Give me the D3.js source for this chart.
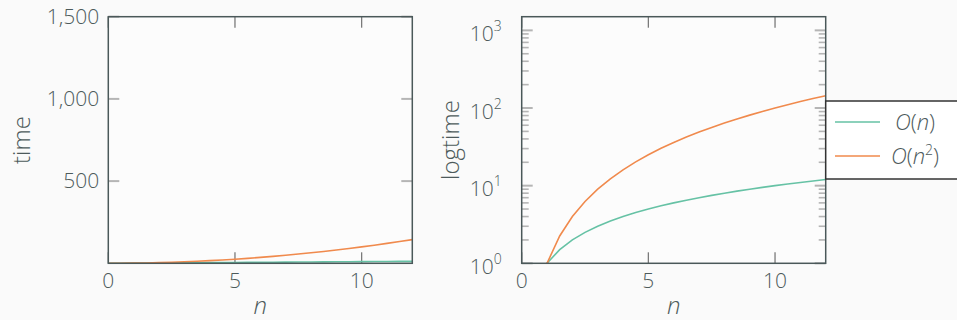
<!DOCTYPE html>
<html>
<head>
<meta charset="utf-8">
<script src="https://cdn.jsdelivr.net/npm/d3@7"></script>
<style>
  body { margin: 0; background: #fafafa; }
  svg { display: block; font-family: "Open Sans", "Noto Sans", sans-serif; }
  .lbl { fill: #4d5a5b; font-size: 21px; font-weight: 300; }
  .title { fill: #4d5a5b; font-size: 24px; font-weight: 300; }
</style>
</head>
<body>
<svg id="chart" width="957" height="320"></svg>
<script>
// sample points of n (pgfplots style, 25 samples on 0..12)
const nValues = [0, 0.5, 1, 1.5, 2, 2.5, 3, 3.5, 4, 4.5, 5, 5.5, 6, 6.5, 7, 7.5, 8, 8.5, 9, 9.5, 10, 10.5, 11, 11.5, 12];
const linearTime = [0, 0.5, 1, 1.5, 2, 2.5, 3, 3.5, 4, 4.5, 5, 5.5, 6, 6.5, 7, 7.5, 8, 8.5, 9, 9.5, 10, 10.5, 11, 11.5, 12];
const quadTime = [0, 0.25, 1, 2.25, 4, 6.25, 9, 12.25, 16, 20.25, 25, 30.25, 36, 42.25, 49, 56.25, 64, 72.25, 81, 90.25, 100, 110.25, 121, 132.25, 144];
const seriesNames = ['O(n)', 'O(n²)'];
const xTicks = [0, 5, 10];
const linTicks = [500, 1000, 1500];
const logMajor = [1, 10, 100, 1000];
const logExp = ['0', '1', '2', '3'];
const logMinor = [2, 3, 4, 5, 6, 7, 8, 9, 20, 30, 40, 50, 60, 70, 80, 90, 200, 300, 400, 500, 600, 700, 800, 900];

const colors = ['#66c2a5', '#f08a4d'];
const frameColor = '#4a5859';

const svg = d3.select('#chart');

const series = [
  nValues.map((n, i) => ({n: n, t: linearTime[i]})),
  nValues.map((n, i) => ({n: n, t: quadTime[i]}))
];

function drawPanel(cfg) {
  const x = d3.scaleLinear().domain([0, 12]).range([cfg.left, cfg.left + 304]);
  const y = cfg.log
    ? d3.scaleLog().domain([1, 1500]).range([263.3, 16.7])
    : d3.scaleLinear().domain([0, 1500]).range([263.3, 16.7]);

  const g = svg.append('g');

  // plot background
  g.append('rect')
      .attr('x', x.range()[0]).attr('y', 16.7)
      .attr('width', 304).attr('height', 246.6)
      .attr('fill', '#fcfcfc');

  g.append('clipPath').attr('id', cfg.id)
    .append('rect')
      .attr('x', x.range()[0]).attr('y', 16.7)
      .attr('width', 304).attr('height', 246.6);

  // y ticks (left and right, inside)
  const yTickList = cfg.log ? logMajor : linTicks;
  const tickG = g.append('g');
  yTickList.forEach(v => {
    [[x.range()[0], 11], [x.range()[1], -11]].forEach(([x0, len]) => {
      tickG.append('line')
        .attr('x1', x0).attr('x2', x0 + len)
        .attr('y1', y(v)).attr('y2', y(v))
        .attr('stroke', '#b5b5b5').attr('stroke-width', 2);
    });
  });
  if (cfg.log) {
    logMinor.forEach(v => {
      [[x.range()[0], 7], [x.range()[1], -7]].forEach(([x0, len]) => {
        tickG.append('line')
          .attr('x1', x0).attr('x2', x0 + len)
          .attr('y1', y(v)).attr('y2', y(v))
          .attr('stroke', '#b5b5b5').attr('stroke-width', 1.6);
      });
    });
  }
  // x ticks (top and bottom, inside)
  xTicks.forEach(v => {
    [[263.3, -11], [16.7, 11]].forEach(([y0, len]) => {
      tickG.append('line')
        .attr('x1', x(v)).attr('x2', x(v))
        .attr('y1', y0).attr('y2', y0 + len)
        .attr('stroke', '#7a7a7a').attr('stroke-width', 1.3);
    });
  });

  // lines
  const line = d3.line()
      .defined(d => !cfg.log || d.t > 0)
      .x(d => x(d.n))
      .y(d => y(d.t));
  series.forEach((s, i) => {
    g.append('path')
      .datum(s)
      .attr('clip-path', `url(#${cfg.id})`)
      .attr('fill', 'none')
      .attr('stroke', colors[i])
      .attr('stroke-width', 1.6)
      .attr('d', line);
  });

  // frame
  g.append('rect')
      .attr('x', x.range()[0]).attr('y', 16.7)
      .attr('width', 304).attr('height', 246.6)
      .attr('fill', 'none')
      .attr('stroke', frameColor).attr('stroke-width', 1.5);

  // x tick labels
  xTicks.forEach(v => {
    g.append('text').attr('class', 'lbl')
      .attr('x', x(v)).attr('y', 288)
      .attr('text-anchor', 'middle')
      .text(v);
  });

  // y tick labels
  if (cfg.log) {
    logMajor.forEach((v, i) => {
      const t = g.append('text').attr('class', 'lbl')
        .attr('x', x.range()[0] - 20).attr('y', y(v) + 10.5)
        .attr('text-anchor', 'end');
      t.append('tspan').text('10');
      t.append('tspan').attr('dy', -10).style('font-size', '14px').text(logExp[i]);
    });
  } else {
    linTicks.forEach(v => {
      g.append('text').attr('class', 'lbl')
        .attr('x', x.range()[0] - 9).attr('y', y(v) + 7)
        .attr('text-anchor', 'end')
        .text(d3.format(',')(v));
    });
  }

  // axis titles
  g.append('text').attr('class', 'title')
    .attr('x', (x.range()[0] + x.range()[1]) / 2).attr('y', 314)
    .attr('text-anchor', 'middle')
    .style('font-style', 'italic')
    .text('n');
  g.append('text').attr('class', 'title')
    .attr('transform', `translate(${cfg.titleX},140) rotate(-90)`)
    .attr('text-anchor', 'middle')
    .text(cfg.title);

  return {x, y};
}

drawPanel({left: 108.3, log: false, id: 'clipA', title: 'time', titleX: 30});
const right = drawPanel({left: 521.7, log: true, id: 'clipB', title: 'logtime', titleX: 459});

// legend box, partly outside the page on the right
const leg = svg.append('g');
leg.append('rect')
    .attr('x', right.x.range()[1]).attr('y', 101)
    .attr('width', 150).attr('height', 78)
    .attr('fill', '#ffffff')
    .attr('stroke', '#333').attr('stroke-width', 1.5);
seriesNames.forEach((name, i) => {
  const yy = 122 + i * 34;
  leg.append('line')
    .attr('x1', 835).attr('x2', 880)
    .attr('y1', yy).attr('y2', yy)
    .attr('stroke', colors[i]).attr('stroke-width', 1.6);
  const t = leg.append('text').attr('class', 'lbl')
    .attr('x', 915).attr('y', yy + 7.5)
    .attr('text-anchor', 'middle')
    .style('font-size', '22px');
  t.append('tspan').style('font-style', 'italic').text('O');
  t.append('tspan').text('(');
  t.append('tspan').style('font-style', 'italic').text('n');
  if (i === 1) {
    t.append('tspan').attr('dy', -9).style('font-size', '14px').text('2');
    t.append('tspan').attr('dy', 9).text(')');
  } else {
    t.append('tspan').text(')');
  }
});
</script>
</body>
</html>
